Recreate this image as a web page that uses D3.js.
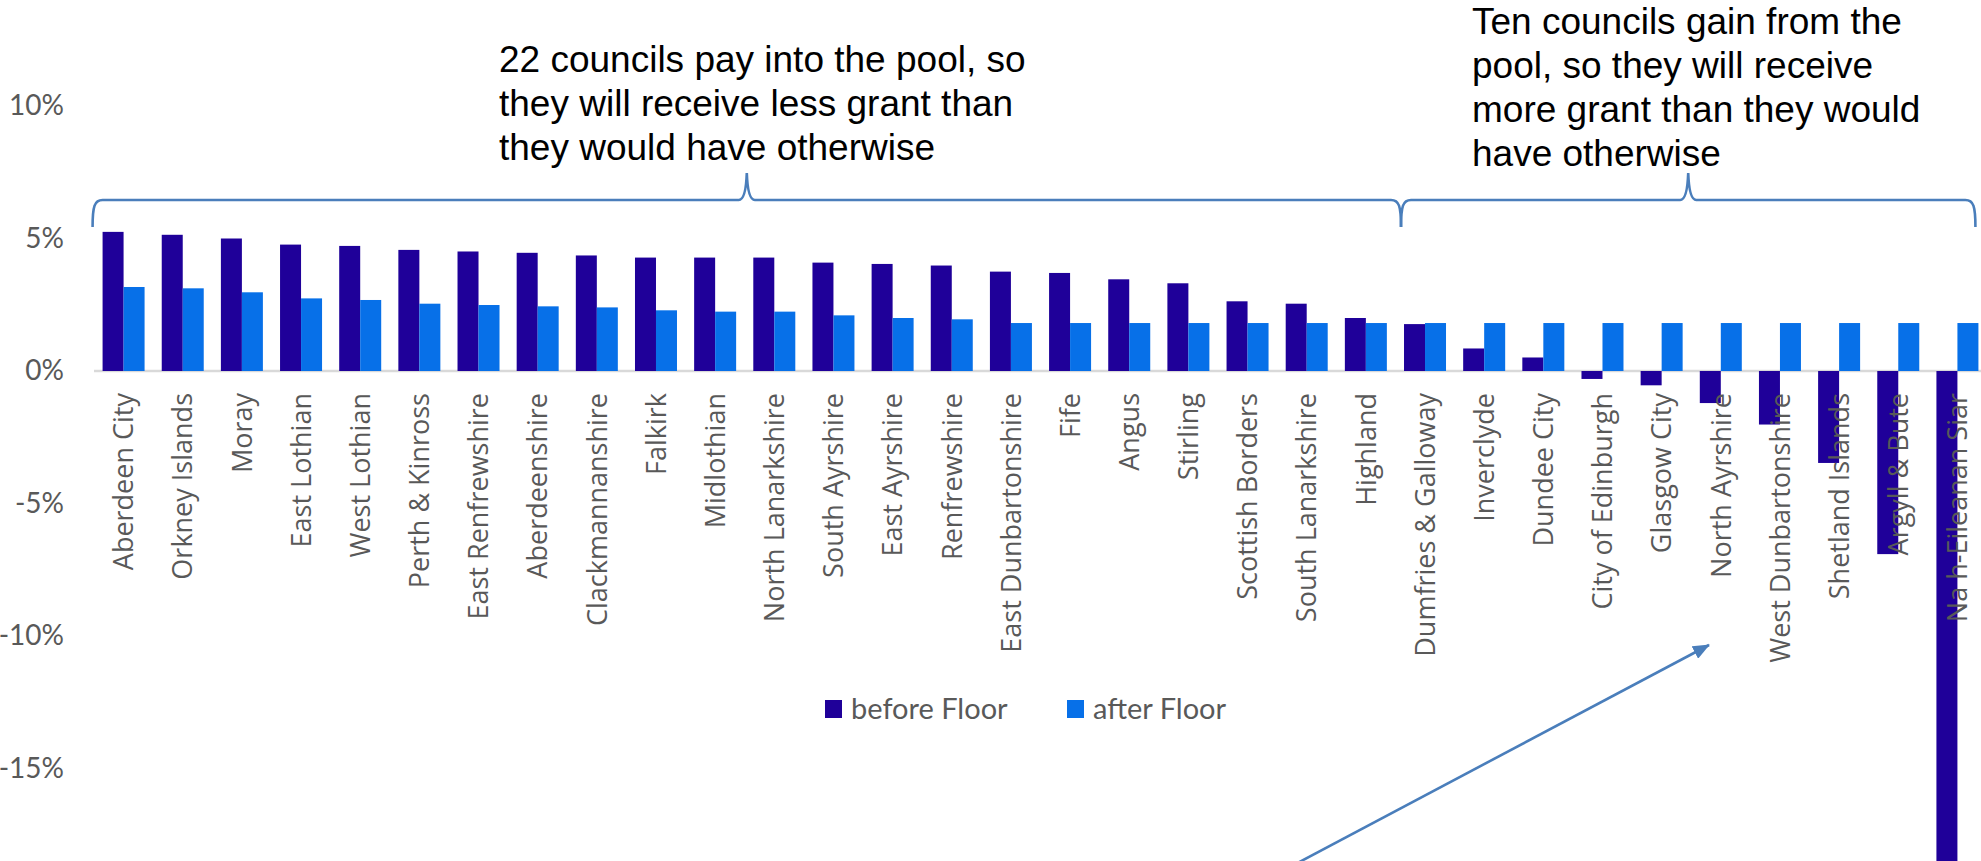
<!DOCTYPE html>
<html>
<head>
<meta charset="utf-8">
<title>Funding floor: before and after</title>
<style>
  body { margin: 0; background: #fff; overflow: hidden; }
  .tick text { font-family: Lato, sans-serif; fill: #595959; }
  .cat-label { font-family: "Open Sans", sans-serif; font-size: 27px; fill: #595959; }
  .note { font-family: "Liberation Sans", Arial, sans-serif; font-size: 37px; fill: #000; }
  .legend text { font-family: Lato, sans-serif; font-size: 29px; fill: #595959; }
  .brace, .arrow { fill: none; stroke: #4a7ebb; stroke-width: 2.6; }
</style>
</head>
<body>
<script src="https://cdn.jsdelivr.net/npm/d3@7"></script>
<script>

// ---- data ----
var councils = [
  "Aberdeen City", "Orkney Islands", "Moray", "East Lothian", "West Lothian",
  "Perth & Kinross", "East Renfrewshire", "Aberdeenshire", "Clackmannanshire", "Falkirk",
  "Midlothian", "North Lanarkshire", "South Ayrshire", "East Ayrshire", "Renfrewshire",
  "East Dunbartonshire", "Fife", "Angus", "Stirling", "Scottish Borders",
  "South Lanarkshire", "Highland", "Dumfries & Galloway", "Inverclyde", "Dundee City",
  "City of Edinburgh", "Glasgow City", "North Ayrshire", "West Dunbartonshire", "Shetland Islands",
  "Argyll & Bute", "Na h-Eileanan Siar"
];
var beforeFloor = [
  5.25, 5.14, 5.00, 4.77, 4.72, 4.57, 4.51, 4.46, 4.36, 4.28,
  4.28, 4.28, 4.09, 4.04, 3.98, 3.75, 3.70, 3.46, 3.31, 2.63,
  2.54, 2.00, 1.77, 0.85, 0.51, -0.30, -0.54, -1.21, -2.02, -3.47,
  -6.91, -19.6
];
var afterFloor = [
  3.17, 3.12, 2.97, 2.74, 2.68, 2.54, 2.49, 2.44, 2.40, 2.29,
  2.24, 2.24, 2.10, 2.00, 1.95, 1.81, 1.81, 1.81, 1.81, 1.81,
  1.81, 1.81, 1.81, 1.81, 1.81, 1.81, 1.81, 1.81, 1.81, 1.81,
  1.81, 1.81
];
var seriesNames = ["before Floor", "after Floor"];
var seriesColors = ["#1f0099", "#0770e8"];
var yTicks = [10, 5, 0, -5, -10, -15];
var payCount = 22;   // first 22 councils pay into the pool

var noteLeft = [
  "22 councils pay into the pool, so",
  "they will receive less grant than",
  "they would have otherwise"
];
var noteRight = [
  "Ten councils gain from the",
  "pool, so they will receive",
  "more grant than they would",
  "have otherwise"
];

// ---- layout ----
var width = 1981, height = 861;

var svg = d3.select("body").append("svg")
    .attr("width", width)
    .attr("height", height);

var x = d3.scaleBand()
    .domain(councils)
    .range([94, 1987])
    .paddingInner(0.29)
    .paddingOuter(0.145);

var xs = d3.scaleBand()
    .domain(seriesNames)
    .range([0, x.bandwidth()]);

var color = d3.scaleOrdinal().domain(seriesNames).range(seriesColors);

var y = d3.scaleLinear()
    .domain([-20, 10])
    .range([901, 106]);

// zero line
svg.append("line")
    .attr("x1", x.range()[0])
    .attr("x2", width)
    .attr("y1", y(0))
    .attr("y2", y(0))
    .attr("stroke", "#d9d9d9")
    .attr("stroke-width", 2.5);

// y axis labels only
var yAxis = svg.append("g")
    .attr("transform", "translate(64,0)")
    .call(d3.axisLeft(y)
      .tickValues(yTicks)
      .tickSize(0)
      .tickPadding(0)
      .tickFormat(function(d) { return d + "%"; }));
yAxis.select(".domain").remove();
yAxis.selectAll("text").style("font-size", "28px");

// bars
var rows = councils.map(function(c, i) {
  return { council: c, values: [beforeFloor[i], afterFloor[i]] };
});

var groups = svg.selectAll(".group")
    .data(rows)
    .enter().append("g")
    .attr("class", "group")
    .attr("transform", function(d) { return "translate(" + x(d.council) + ",0)"; });

groups.selectAll("rect")
    .data(function(d) {
      return seriesNames.map(function(s, j) { return { series: s, value: d.values[j] }; });
    })
    .enter().append("rect")
    .attr("x", function(d) { return xs(d.series); })
    .attr("width", xs.bandwidth())
    .attr("y", function(d) { return y(Math.max(0, d.value)); })
    .attr("height", function(d) { return Math.abs(y(d.value) - y(0)); })
    .attr("fill", function(d) { return color(d.series); });

// category labels (drawn over the bars)
svg.selectAll(".cat-label")
    .data(councils)
    .enter().append("text")
    .attr("class", "cat-label")
    .attr("text-anchor", "end")
    .attr("dy", "0.36em")
    .attr("transform", function(d) {
      return "translate(" + (x(d) + x.bandwidth() / 2) + "," + (y(0) + 22) + ") rotate(-90)";
    })
    .text(function(d) { return d; });

// legend
var legend = svg.append("g")
    .attr("class", "legend")
    .attr("transform", "translate(825,700)");

var item = legend.selectAll("g")
    .data(seriesNames)
    .enter().append("g")
    .attr("transform", function(d, i) { return "translate(" + (i * 242) + ",0)"; });

item.append("rect")
    .attr("width", 17)
    .attr("height", 18)
    .attr("fill", function(d) { return color(d); });

item.append("text")
    .attr("x", 26)
    .attr("y", 19)
    .text(function(d) { return d; });

// braces over the two groups
function bracePath(x0, x1, yTop, depth, tip) {
  var mid = (x0 + x1) / 2;
  return "M" + x0 + "," + (yTop + depth) +
    " C" + x0 + "," + (yTop + 6) + " " + (x0 + 2) + "," + yTop + " " + (x0 + 10) + "," + yTop +
    " L" + (mid - 8) + "," + yTop +
    " Q" + (mid - 1) + "," + yTop + " " + mid + "," + (yTop - tip) +
    " Q" + (mid + 1) + "," + yTop + " " + (mid + 8) + "," + yTop +
    " L" + (x1 - 10) + "," + yTop +
    " C" + (x1 - 2) + "," + yTop + " " + x1 + "," + (yTop + 6) + " " + x1 + "," + (yTop + depth);
}

var braceLeft = x(councils[0]) - 10;
var braceJoin = x(councils[payCount]) - 3;
var braceRight = x(councils[councils.length - 1]) + x.bandwidth() - 3;

svg.append("path").attr("class", "brace").attr("d", bracePath(braceLeft, braceJoin, 200, 27, 27));
svg.append("path").attr("class", "brace").attr("d", bracePath(braceJoin, braceRight, 200, 27, 27));

// notes
svg.append("text")
    .attr("class", "note")
    .selectAll("tspan")
    .data(noteLeft)
    .enter().append("tspan")
    .attr("x", 499)
    .attr("y", function(d, i) { return 72 + i * 44; })
    .text(function(d) { return d; });

svg.append("text")
    .attr("class", "note")
    .selectAll("tspan")
    .data(noteRight)
    .enter().append("tspan")
    .attr("x", 1472)
    .attr("y", function(d, i) { return 34 + i * 44; })
    .text(function(d) { return d; });

// arrow
svg.append("defs").append("marker")
    .attr("id", "head")
    .attr("markerUnits", "userSpaceOnUse")
    .attr("markerWidth", 18)
    .attr("markerHeight", 14)
    .attr("refX", 16)
    .attr("refY", 7)
    .attr("orient", "auto")
    .append("path")
    .attr("d", "M0,0 L17,7 L0,14 Z")
    .attr("fill", "#4a7ebb");

svg.append("line")
    .attr("class", "arrow")
    .attr("x1", 1290)
    .attr("y1", 867)
    .attr("x2", 1709)
    .attr("y2", 645)
    .attr("marker-end", "url(#head)");

</script>
</body>
</html>
